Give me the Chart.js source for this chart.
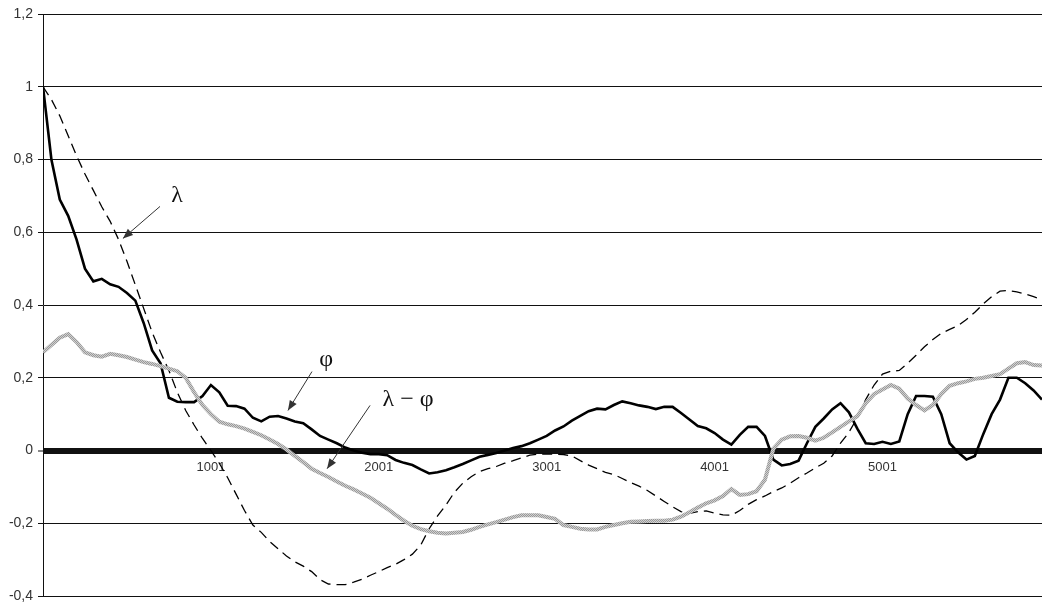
<!DOCTYPE html>
<html>
<head>
<meta charset="utf-8">
<script src="https://cdn.jsdelivr.net/npm/chart.js@4"></script>
<style>
  body { margin: 0; background: #fff; }
</style>
</head>
<body>
<canvas id="chart" width="1042" height="603"></canvas>
<script>
// values every 50 steps (1, 51, 101, ... 5951)
const phi = [1.0, 0.80, 0.69, 0.645, 0.58, 0.50, 0.465, 0.472, 0.457, 0.45,
  0.433, 0.412, 0.35, 0.275, 0.24, 0.145, 0.134, 0.133, 0.133, 0.15,
  0.18, 0.16, 0.123, 0.122, 0.115, 0.09, 0.08, 0.093, 0.095, 0.088,
  0.08, 0.075, 0.058, 0.04, 0.03, 0.02, 0.008, 0.0, -0.006, -0.01,
  -0.01, -0.013, -0.026, -0.034, -0.04, -0.052, -0.063, -0.06, -0.054, -0.046,
  -0.037, -0.027, -0.017, -0.012, -0.007, 0.0, 0.007, 0.012, 0.02, 0.03,
  0.04, 0.055, 0.066, 0.082, 0.095, 0.108, 0.115, 0.113, 0.125, 0.135,
  0.13, 0.124, 0.12, 0.114, 0.12, 0.12, 0.103, 0.085, 0.067, 0.061,
  0.048, 0.03, 0.016, 0.043, 0.065, 0.065, 0.04, -0.025, -0.041, -0.037,
  -0.028, 0.02, 0.065, 0.088, 0.113, 0.13, 0.105, 0.06, 0.02, 0.018,
  0.024, 0.018, 0.025, 0.1, 0.15, 0.15, 0.148, 0.1, 0.02, -0.005,
  -0.025, -0.015, 0.045, 0.1, 0.14, 0.2, 0.2, 0.185, 0.165, 0.14];

const lambda = [1.0, 0.965, 0.92, 0.865, 0.81, 0.76, 0.715, 0.67, 0.63, 0.58,
  0.52, 0.455, 0.39, 0.325, 0.27, 0.22, 0.16, 0.11, 0.07, 0.033,
  0.0, -0.035, -0.075, -0.12, -0.165, -0.205, -0.225, -0.25, -0.27, -0.29,
  -0.306, -0.318, -0.333, -0.355, -0.367, -0.369, -0.369, -0.362, -0.354, -0.343,
  -0.333, -0.322, -0.313, -0.3, -0.285, -0.26, -0.215, -0.18, -0.15, -0.115,
  -0.09, -0.072, -0.058, -0.05, -0.044, -0.035, -0.028, -0.02, -0.013, -0.01,
  -0.01, -0.01, -0.011, -0.015, -0.028, -0.04, -0.05, -0.06, -0.066, -0.077,
  -0.088, -0.098, -0.11, -0.125, -0.14, -0.155, -0.168, -0.173, -0.168, -0.166,
  -0.172, -0.177, -0.178, -0.165, -0.148, -0.135, -0.125, -0.113, -0.103, -0.09,
  -0.075, -0.062, -0.048, -0.035, -0.015, 0.02, 0.05, 0.09, 0.14, 0.18,
  0.21, 0.218, 0.22, 0.24, 0.262, 0.285, 0.305, 0.322, 0.333, 0.343,
  0.36, 0.38, 0.403, 0.423, 0.438, 0.44, 0.436, 0.43, 0.423, 0.415];

const lambdaMinusPhi = [0.27, 0.29, 0.31, 0.32, 0.298, 0.27, 0.262, 0.258, 0.266, 0.262,
  0.257, 0.25, 0.243, 0.238, 0.232, 0.225, 0.218, 0.2, 0.16, 0.125,
  0.1, 0.079, 0.072, 0.067, 0.06, 0.051, 0.042, 0.03, 0.018, 0.003,
  -0.015, -0.032, -0.05, -0.062, -0.073, -0.085, -0.097, -0.107, -0.118, -0.13,
  -0.145, -0.16, -0.177, -0.193, -0.207, -0.216, -0.222, -0.226, -0.228, -0.226,
  -0.224, -0.218, -0.21, -0.203, -0.197, -0.19, -0.183, -0.178, -0.178, -0.178,
  -0.183, -0.188, -0.205, -0.21, -0.215, -0.217, -0.217, -0.21, -0.205, -0.2,
  -0.196, -0.195, -0.194, -0.193, -0.193, -0.19, -0.182, -0.17, -0.157, -0.145,
  -0.137, -0.125, -0.106, -0.122, -0.12, -0.112, -0.08, 0.005, 0.03, 0.039,
  0.04, 0.035, 0.027, 0.035, 0.05, 0.065, 0.08, 0.094, 0.13, 0.155,
  0.168, 0.18, 0.17, 0.143, 0.125, 0.11, 0.125, 0.155, 0.178, 0.185,
  0.19, 0.197, 0.2, 0.205, 0.21, 0.225, 0.24, 0.243, 0.235, 0.234];

const xTickLabels = [1001, 2001, 3001, 4001, 5001];
const yMin = -0.4, yMax = 1.2, yStep = 0.2;

const sampleX = phi.map((_, i) => 1 + i * 50);
const toPoints = (vals) => vals.map((v, i) => ({ x: sampleX[i], y: v }));

// curve labels with arrows (data coordinates)
const notes = [
  { text: "λ", at: [800, 0.70], from: [698, 0.671], to: [477, 0.583] },
  { text: "φ", at: [1687, 0.25], from: [1603, 0.217], to: [1460, 0.11] },
  { text: "λ − φ", at: [2175, 0.14], from: [1949, 0.124], to: [1693, -0.05] },
];

// grey dotted texture for the λ − φ line
function greyPattern() {
  const c = document.createElement("canvas");
  c.width = 2; c.height = 2;
  const g = c.getContext("2d");
  g.fillStyle = "#d0d0d0"; g.fillRect(0, 0, 2, 2);
  g.fillStyle = "#999"; g.fillRect(0, 0, 1, 1); g.fillRect(1, 1, 1, 1);
  return g.createPattern(c, "repeat");
}

const notesPlugin = {
  id: "notes",
  afterDatasetsDraw(chart) {
    const { ctx, scales: { x, y } } = chart;
    ctx.save();
    notes.forEach((n) => {
      const x1 = x.getPixelForValue(n.from[0]), y1 = y.getPixelForValue(n.from[1]);
      const x2 = x.getPixelForValue(n.to[0]), y2 = y.getPixelForValue(n.to[1]);
      ctx.strokeStyle = "#333";
      ctx.fillStyle = "#333";
      ctx.lineWidth = 1;
      ctx.beginPath();
      ctx.moveTo(x1, y1);
      ctx.lineTo(x2, y2);
      ctx.stroke();
      const a = Math.atan2(y2 - y1, x2 - x1);
      ctx.beginPath();
      ctx.moveTo(x2, y2);
      ctx.lineTo(x2 - 10 * Math.cos(a) + 4 * Math.sin(a), y2 - 10 * Math.sin(a) - 4 * Math.cos(a));
      ctx.lineTo(x2 - 10 * Math.cos(a) - 4 * Math.sin(a), y2 - 10 * Math.sin(a) + 4 * Math.cos(a));
      ctx.closePath();
      ctx.fill();

      ctx.fillStyle = "#111";
      ctx.font = "24px 'Liberation Serif', 'DejaVu Serif', serif";
      ctx.textAlign = "center";
      ctx.textBaseline = "middle";
      ctx.fillText(n.text, x.getPixelForValue(n.at[0]), y.getPixelForValue(n.at[1]));
    });
    ctx.restore();
  },
};

const chart = new Chart(document.getElementById("chart"), {
  type: "line",
  data: {
    datasets: [
      {
        label: "λ − φ",
        data: toPoints(lambdaMinusPhi),
        borderColor: greyPattern(),
        borderWidth: 4,
      },
      {
        label: "λ",
        data: toPoints(lambda),
        borderColor: "#000",
        borderWidth: 1.3,
        borderDash: [10, 6],
      },
      {
        label: "φ",
        data: toPoints(phi),
        borderColor: "#000",
        borderWidth: 2.6,
      },
    ],
  },
  options: {
    responsive: false,
    animation: false,
    parsing: false,
    layout: { padding: { top: 14, bottom: 7, left: 0, right: 0 } },
    elements: { point: { radius: 0 }, line: { tension: 0 } },
    plugins: { legend: { display: false }, tooltip: { enabled: false } },
    scales: {
      x: {
        type: "linear",
        position: { y: 0 },
        min: 1,
        max: sampleX[sampleX.length - 1],
        afterBuildTicks: (scale) => {
          scale.ticks = xTickLabels.map((v) => ({ value: v }));
        },
        grid: { display: false, drawTicks: false },
        border: { display: false },
        ticks: {
          padding: 9,
          maxRotation: 0,
          autoSkip: false,
          color: "#333",
          font: { family: "'Liberation Sans', Arial, sans-serif", size: 13 },
          callback: (v) => String(v),
        },
      },
      y: {
        min: yMin,
        max: yMax,
        afterFit: (scale) => {
          scale.width = 43;
          scale.paddingTop = 0;
          scale.paddingBottom = 0;
        },
        grid: {
          color: "#111",
          lineWidth: (c) => (Math.abs(c.tick.value) < 1e-9 ? 6 : 1),
          tickLength: 5,
          tickWidth: 1,
          tickColor: "#111",
        },
        border: { display: true, color: "#111", width: 1 },
        ticks: {
          stepSize: yStep,
          padding: 5,
          color: "#333",
          font: { family: "'Liberation Sans', Arial, sans-serif", size: 14 },
          callback: (v) => String(Math.round(v * 10) / 10).replace(".", ","),
        },
      },
    },
  },
  plugins: [notesPlugin],
});
</script>
</body>
</html>
